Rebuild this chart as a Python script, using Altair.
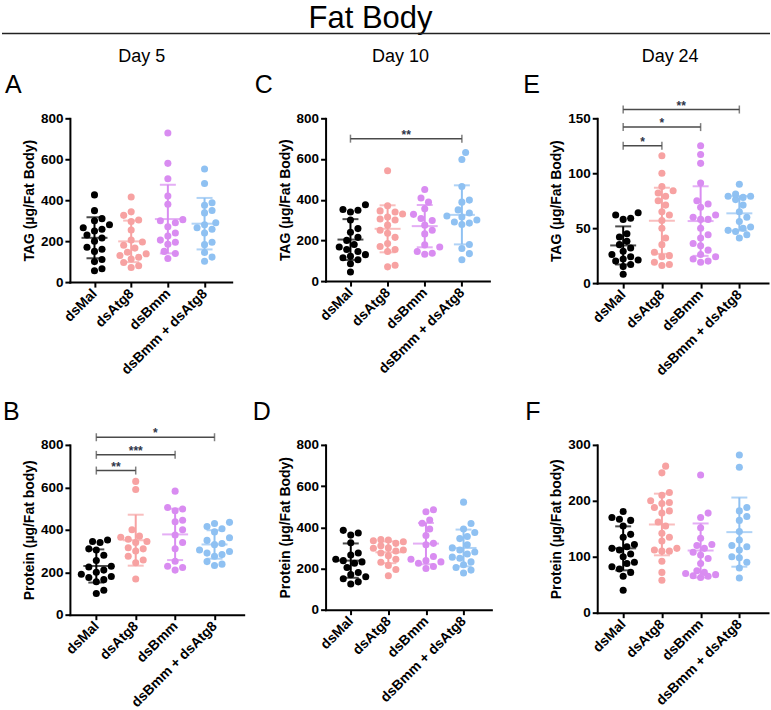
import altair as alt
import pandas as pd

GROUPS = ["dsMal", "dsAtg8", "dsBmm", "dsBmm + dsAtg8"]
COLORS = ["#000000", "#F7A2A2", "#D98CF1", "#8FC1F2"]
FONT = "Liberation Sans"
X_DOMAIN = [-0.67, 3.74]

# Day 5 TAG (A)
a_mal = [426, 349, 310, 300, 280, 265, 258, 250, 230, 215, 200, 170, 160, 150, 110, 100, 65, 55]
a_atg8 = [416, 343, 326, 303, 296, 254, 205, 196, 180, 166, 146, 138, 130, 121, 113, 96, 80, 71]
a_bmm = [728, 580, 505, 420, 380, 305, 300, 290, 270, 240, 225, 205, 195, 185, 150, 140, 115]
a_both = [552, 482, 388, 375, 350, 338, 290, 280, 265, 258, 240, 195, 183, 145, 122, 102]

# Day 10 TAG (C)
c_mal = [375, 352, 348, 340, 300, 258, 240, 215, 200, 180, 168, 155, 145, 130, 122, 115, 105, 85, 45]
c_atg8 = [542, 370, 345, 340, 330, 315, 305, 300, 275, 250, 235, 215, 185, 170, 155, 145, 78, 70]
c_bmm = [450, 408, 388, 355, 328, 308, 298, 275, 250, 232, 178, 168, 145, 137, 132]
c_both = [632, 598, 465, 398, 388, 350, 335, 320, 315, 300, 290, 285, 278, 180, 160, 135, 105]

# Day 24 TAG (E)
e_mal = [64, 62, 59, 58, 45, 42, 38, 35, 32, 29, 26, 24, 22, 21, 20, 17, 15, 8]
e_atg8 = [116, 100, 88, 84, 82, 79, 75, 71, 65, 62, 57, 50, 41, 35, 28, 25, 24, 19, 17, 16]
e_bmm = [125, 117, 109, 91, 75, 72, 69, 62, 58, 60, 58, 50, 44, 41, 36, 34, 30, 26, 24, 22, 20, 19]
e_both = [90, 81, 79, 79, 78, 76, 71, 65, 60, 56, 51, 50, 48, 47, 44, 41]

# Day 5 protein (B)
b_mal = [352, 345, 340, 310, 305, 280, 255, 228, 225, 210, 200, 190, 180, 175, 165, 155, 115, 100]
b_atg8 = [628, 590, 400, 370, 365, 355, 345, 340, 315, 310, 300, 275, 258, 245, 168]
b_bmm = [582, 505, 498, 490, 445, 438, 400, 375, 340, 310, 252, 228, 222, 210]
b_both = [435, 430, 415, 405, 390, 362, 350, 335, 330, 305, 298, 290, 283, 275, 250, 238, 232]

# Day 10 protein (D)
d_mal = [385, 372, 362, 325, 275, 265, 245, 238, 232, 225, 205, 180, 170, 160, 150, 135, 125]
d_atg8 = [340, 338, 335, 330, 322, 310, 300, 298, 290, 285, 275, 262, 245, 230, 215, 195, 165]
d_bmm = [485, 475, 435, 420, 392, 360, 322, 315, 258, 245, 238, 232, 225, 210, 200]
d_both = [522, 418, 392, 375, 355, 345, 315, 300, 290, 280, 270, 255, 250, 232, 218, 205, 192, 178]

# Day 24 protein (F)
f_mal = [181, 170, 167, 165, 155, 140, 135, 122, 118, 115, 112, 105, 100, 90, 88, 82, 78, 72, 65, 40]
f_atg8 = [262, 250, 215, 210, 200, 197, 195, 188, 182, 178, 162, 155, 142, 135, 128, 115, 112, 110, 110, 92, 72, 58]
f_bmm = [246, 178, 170, 152, 133, 122, 120, 115, 108, 103, 97, 88, 75, 72, 70, 68, 66, 65, 63]
f_both = [282, 260, 188, 182, 172, 165, 145, 130, 120, 118, 112, 100, 98, 90, 80, 62]

# significance brackets: (from group, to group, level, stars)
c_brackets = [(0, 3, 700, "**")]
e_brackets = [(0, 1, 125, "*"), (0, 2, 142, "*"), (0, 3, 158, "**")]
b_brackets = [(0, 1, 679, "**"), (0, 2, 753, "***"), (0, 3, 836, "*")]

TAG_TITLE = "TAG (µg/Fat Body)"

ROW1_TOP = 118
ROW2_TOP = 445


def swarm_offsets(values, px_per_unit, diameter=7.5, max_steps=4):
    """Beeswarm-style horizontal offsets (pixels) so dots don't pile up."""
    order = sorted(range(len(values)), key=lambda i: values[i])
    step = diameter / 2.0
    cands = [0.0]
    for j in range(1, max_steps + 1):
        cands += [j * step, -j * step]
    placed = []
    offs = [0.0] * len(values)
    for i in order:
        yp = values[i] * px_per_unit
        best = None
        for c in cands:
            if all((c - px) ** 2 + (yp - py) ** 2 >= diameter ** 2 for px, py in placed):
                best = c
                break
        if best is None:
            best = max(cands, key=lambda c: min((c - px) ** 2 + (yp - py) ** 2 for px, py in placed))
        placed.append((best, yp))
        offs[i] = best
    return offs


LABEL_EXPR = " : ".join(f"datum.value == {i} ? '{g}'" for i, g in enumerate(GROUPS)) + " : ''"


def panel(series, ymax, yticks, ytitle, w, h, brackets=()):
    units_per_px = (X_DOMAIN[1] - X_DOMAIN[0]) / w
    rows = []
    for gi, (name, vals) in enumerate(zip(GROUPS, series)):
        offs = swarm_offsets(vals, h / ymax)
        for v, o in zip(vals, offs):
            rows.append({"group": name, "gi": gi, "xpos": gi + o * units_per_px, "value": v})
    df = pd.DataFrame(rows)

    xscale = alt.Scale(domain=X_DOMAIN, nice=False, zero=False)
    yscale = alt.Scale(domain=[0, ymax], nice=False, zero=True)
    xaxis = alt.Axis(values=[0, 1, 2, 3], labelExpr=LABEL_EXPR, title=None, grid=False,
                     labelAngle=-45, labelAlign="right", labelBaseline="middle",
                     labelOverlap=False, labelFontSize=14, tickSize=5, labelPadding=4)
    yaxis = alt.Axis(values=yticks, title=ytitle, grid=False, tickSize=5,
                     labelFontSize=13.5, labelPadding=2, titlePadding=4)

    def X(f):
        return alt.X(f, type="quantitative", scale=xscale, axis=xaxis)

    def Y(f):
        return alt.Y(f, type="quantitative", scale=yscale, axis=yaxis)

    color = alt.Color("group:N", scale=alt.Scale(domain=GROUPS, range=COLORS), legend=None)

    dots = alt.Chart(df).mark_circle(size=50, opacity=1).encode(x=X("xpos"), y=Y("value"), color=color)

    stats = alt.Chart(df).transform_aggregate(
        mean="mean(value)", sd="stdev(value)", groupby=["group", "gi"]
    ).transform_calculate(lo="datum.mean - datum.sd", hi="datum.mean + datum.sd")
    bar = stats.mark_rule(strokeWidth=2).encode(x=X("gi"), y=Y("lo"), y2="hi:Q", color=color)
    mean_tick = stats.mark_tick(orient="horizontal", size=26, thickness=2).encode(
        x=X("gi"), y=Y("mean"), color=color)
    lo_cap = stats.mark_tick(orient="horizontal", size=16, thickness=2).encode(
        x=X("gi"), y=Y("lo"), color=color)
    hi_cap = stats.mark_tick(orient="horizontal", size=16, thickness=2).encode(
        x=X("gi"), y=Y("hi"), color=color)

    layers = [dots, bar, mean_tick, lo_cap, hi_cap]

    if brackets:
        bdf = pd.DataFrame(list(brackets), columns=["x1", "x2", "level", "stars"])
        base = alt.Chart(bdf)
        line = base.mark_rule(color="#4a4a4a", strokeWidth=1.5).encode(
            x=X("x1"), x2="x2:Q", y=Y("level"))
        ends = base.transform_fold(["x1", "x2"], as_=["end", "xe"]).mark_tick(
            orient="vertical", size=8, thickness=1.5, color="#4a4a4a"
        ).encode(x=X("xe"), y=Y("level"))
        stars = base.transform_calculate(xm="(datum.x1 + datum.x2) / 2").mark_text(
            font=FONT, fontSize=12, fontWeight="bold", color="#2f3548", baseline="alphabetic"
        ).encode(x=X("xm"), y=Y("level"), text="stars:N")
        layers += [line, ends, stars]

    return alt.layer(*layers).properties(width=w, height=h)


def box(x, x2, y, y2):
    """Invisible rectangle in pixel space (keeps a cell's extent)."""
    return alt.Chart(pd.DataFrame({"s": [0]})).mark_rect(opacity=0).encode(
        x=alt.value(x), x2=alt.value(x2), y=alt.value(y), y2=alt.value(y2))


def blank(w, h=1):
    return box(0, w, 0, h).properties(width=w, height=h)


def label(t, x, y, size, align="center"):
    return alt.Chart(pd.DataFrame({"t": [t]})).mark_text(
        x=x, y=y, fontSize=size, align=align, baseline="alphabetic", font=FONT, color="black"
    ).encode(text="t:N")


# left cell of the first row carries the page header (drawn above the row)
t = ROW1_TOP
header = alt.layer(
    box(0, 771, -t, 1),
    label("Fat Body", 371, 28 - t, 31),
    alt.Chart(pd.DataFrame({"s": [0]})).mark_rule(color="#222222", strokeWidth=1.5).encode(
        x=alt.value(2), x2=alt.value(771), y=alt.value(33 - t)),
    label("Day 5", 142, 62 - t, 18),
    label("Day 10", 401, 62 - t, 18),
    label("Day 24", 671, 62 - t, 18),
    label("A", 5, 93 - t, 25, "left"),
    label("C", 255, 93 - t, 25, "left"),
    label("E", 524, 93 - t, 25, "left"),
).properties(width=70, height=1)

# left cell of the second row carries the letters of the lower panels
t2 = ROW2_TOP
letters2 = alt.layer(
    box(0, 70, 0, 1),
    label("B", 3, 420 - t2, 25, "left"),
    label("D", 253, 420 - t2, 25, "left"),
    label("F", 526, 420 - t2, 25, "left"),
).properties(width=70, height=1)

pA = panel([a_mal, a_atg8, a_bmm, a_both], 800, [0, 200, 400, 600, 800], TAG_TITLE, 162, 164)
pC = panel([c_mal, c_atg8, c_bmm, c_both], 800, [0, 200, 400, 600, 800], TAG_TITLE, 164, 163, c_brackets)
pE = panel([e_mal, e_atg8, e_bmm, e_both], 150, [0, 50, 100, 150], TAG_TITLE, 171, 165, e_brackets)
pB = panel([b_mal, b_atg8, b_bmm, b_both], 800, [0, 200, 400, 600, 800],
           "Protein (µg/Fat body)", 174, 170, b_brackets)
pD = panel([d_mal, d_atg8, d_bmm, d_both], 800, [0, 200, 400, 600, 800],
           "Protein (µg/Fat Body)", 166, 165)
pF = panel([f_mal, f_atg8, f_bmm, f_both], 300, [0, 100, 200, 300],
           "Protein (µg/Fat body)", 171, 168)

row_gap = ROW2_TOP - ROW1_TOP - 165

chart = alt.concat(
    header, pA, blank(82), pC, blank(106), pE,
    letters2, pB, blank(82), pD, blank(106), pF,
    columns=6, spacing={"row": row_gap, "column": 0}, bounds="flush",
).properties(padding=0).configure(font=FONT).configure_view(stroke=None).configure_axis(
    domainColor="black", domainWidth=2, domainCap="square", tickColor="black", tickWidth=2,
    labelFont=FONT, labelFontWeight="bold", labelFontSize=13, labelColor="black",
    titleFont=FONT, titleFontWeight="bold", titleFontSize=14, titleColor="black",
)

chart.save("out.html", embed_options={"renderer": "svg", "actions": False})
